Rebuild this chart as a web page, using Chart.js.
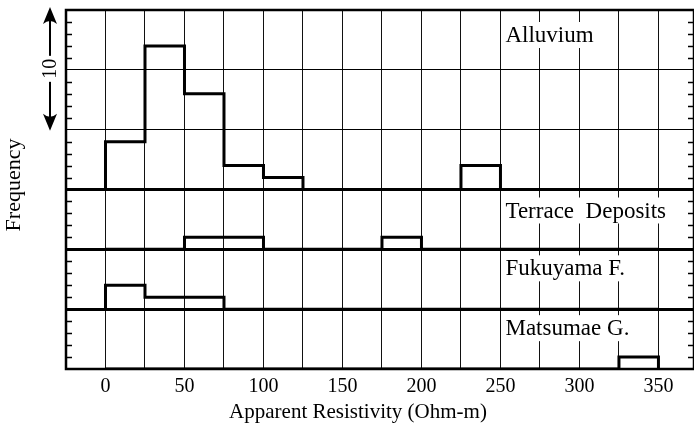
<!DOCTYPE html>
<html lang="en">
<head>
<meta charset="UTF-8">
<title>Apparent Resistivity histograms</title>
<script src="https://cdn.jsdelivr.net/npm/chart.js@4.4.0/dist/chart.umd.min.js"></script>
<style>
  html, body { margin: 0; padding: 0; background: #fff; }
  #wrap { width: 694px; height: 433px; }
</style>
</head>
<body>
<div id="wrap"><canvas id="chart"></canvas></div>
<script>
// bins of 25 Ohm-m, starting at 0
const binStarts = [0, 25, 50, 75, 100, 125, 150, 175, 200, 225, 250, 275, 300, 325];
const binWidth = 25;

// frequency per bin
const alluvium = [4, 12, 8, 2, 1, 0, 0, 0, 0, 2, 0, 0, 0, 0];
const terrace  = [0, 0, 1, 1, 0, 0, 0, 1, 0, 0, 0, 0, 0, 0];
const fukuyama = [2, 1, 1, 0, 0, 0, 0, 0, 0, 0, 0, 0, 0, 0];
const matsumae = [0, 0, 0, 0, 0, 0, 0, 0, 0, 0, 0, 0, 0, 1];

const panelNames = ['Alluvium', 'Terrace  Deposits', 'Fukuyama F.', 'Matsumae G.'];
const xTickLabels = [0, 50, 100, 150, 200, 250, 300, 350];
const scaleBarValue = 10;

// panels stacked on one y scale: each lower panel is 5 units tall, alluvium 15
const panelSeries = [alluvium, terrace, fukuyama, matsumae];
const panelFloor = [15, 10, 5, 0];
const panelTop = [30, 15, 10, 5];

// histogram outline as a stepped line
function outline(counts, floor) {
  const pts = [{ x: binStarts[0], y: floor }];
  counts.forEach((c, i) => pts.push({ x: binStarts[i], y: floor + c }));
  pts.push({ x: binStarts[binStarts.length - 1] + binWidth, y: floor });
  return pts;
}

const datasets = panelSeries.map((s, i) => ({
  label: panelNames[i],
  data: outline(s, panelFloor[i]),
  stepped: 'before',
  borderColor: '#000',
  borderWidth: 3,
  pointRadius: 0,
  fill: false
}));

const serif = "'Liberation Serif', 'DejaVu Serif', serif";

// border, inner minor ticks, panel names, scale arrow and axis titles
const decorations = {
  id: 'decorations',
  afterDraw(chart) {
    const ctx = chart.ctx;
    const a = chart.chartArea;
    const y = chart.scales.y;
    const x = chart.scales.x;
    ctx.save();
    ctx.strokeStyle = '#000';

    // minor ticks, one per unit, pointing inwards
    ctx.lineWidth = 1.5;
    for (let v = 1; v < 30; v++) {
      if (v % 5 === 0) continue;
      const py = Math.round(y.getPixelForValue(v)) + 0.5;
      ctx.beginPath();
      ctx.moveTo(a.left, py); ctx.lineTo(a.left + 6, py);
      ctx.moveTo(a.right, py); ctx.lineTo(a.right - 6, py);
      ctx.stroke();
    }

    // frame
    ctx.lineWidth = 2.5;
    ctx.strokeRect(a.left, a.top, a.right - a.left, a.bottom - a.top);

    // panel names with white backing
    ctx.font = '23px ' + serif;
    ctx.textBaseline = 'middle';
    ctx.textAlign = 'left';
    const nameDy = [25, 21, 19, 19];
    panelNames.forEach((name, i) => {
      const lx = x.getPixelForValue(250) + 5;
      const ly = y.getPixelForValue(panelTop[i]) + nameDy[i];
      const w = ctx.measureText(name).width;
      ctx.fillStyle = '#fff';
      ctx.fillRect(lx - 2, ly - 13, w + 4, 26);
      ctx.fillStyle = '#000';
      ctx.fillText(name, lx, ly + 1);
    });

    // scale arrow for 10 counts
    const ax = 50;
    const yTop = y.getPixelForValue(30) - 3;
    const yBot = y.getPixelForValue(30 - scaleBarValue) + 1;
    ctx.lineWidth = 2;
    ctx.beginPath();
    ctx.moveTo(ax, yTop + 8); ctx.lineTo(ax, yBot - 8);
    ctx.stroke();
    ctx.fillStyle = '#000';
    [[yTop, 1], [yBot, -1]].forEach(([tip, dir]) => {
      ctx.beginPath();
      ctx.moveTo(ax, tip);
      ctx.lineTo(ax - 7, tip + dir * 17);
      ctx.quadraticCurveTo(ax, tip + dir * 11, ax + 7, tip + dir * 17);
      ctx.closePath();
      ctx.fill();
    });
    const midY = (yTop + yBot) / 2;
    ctx.save();
    ctx.translate(ax, midY);
    ctx.rotate(-Math.PI / 2);
    ctx.font = '20px ' + serif;
    ctx.textAlign = 'center';
    const tw = ctx.measureText(String(scaleBarValue)).width;
    ctx.fillStyle = '#fff';
    ctx.fillRect(-tw / 2 - 3, -9, tw + 6, 18);
    ctx.fillStyle = '#000';
    ctx.fillText(String(scaleBarValue), 0, 1);
    ctx.restore();

    // y title
    ctx.save();
    ctx.translate(14, 185);
    ctx.rotate(-Math.PI / 2);
    ctx.font = '22px ' + serif;
    ctx.textAlign = 'center';
    ctx.fillText('Frequency', 0, 0);
    ctx.restore();

    // x title
    ctx.font = '21px ' + serif;
    ctx.textAlign = 'center';
    ctx.textBaseline = 'alphabetic';
    ctx.fillText('Apparent Resistivity (Ohm-m)', 358, 418);

    ctx.restore();
  }
};

new Chart(document.getElementById('chart'), {
  type: 'line',
  data: { datasets: datasets },
  options: {
    responsive: true,
    maintainAspectRatio: false,
    animation: false,
    layout: { padding: { top: 10, right: 0, left: 0, bottom: 0 } },
    plugins: {
      legend: { display: false },
      tooltip: { enabled: false }
    },
    scales: {
      x: {
        type: 'linear',
        min: -25,
        max: 372.5,
        border: { display: false },
        grid: { color: '#111', lineWidth: 1, drawTicks: false },
        ticks: {
          stepSize: 25,
          includeBounds: false,
          autoSkip: false,
          maxRotation: 0,
          padding: 6,
          color: '#000',
          font: { family: serif, size: 20 },
          callback: v => xTickLabels.includes(v) ? String(v) : ''
        },
        afterFit: s => { s.height = 64; }
      },
      y: {
        min: 0,
        max: 30,
        border: { display: false },
        grid: {
          color: '#000',
          drawTicks: false,
          lineWidth: c => [5, 10, 15].includes(c.tick.value) ? 3 : 1
        },
        ticks: { stepSize: 5, display: false },
        afterFit: s => { s.width = 66; }
      }
    }
  },
  plugins: [decorations]
});
</script>
</body>
</html>
